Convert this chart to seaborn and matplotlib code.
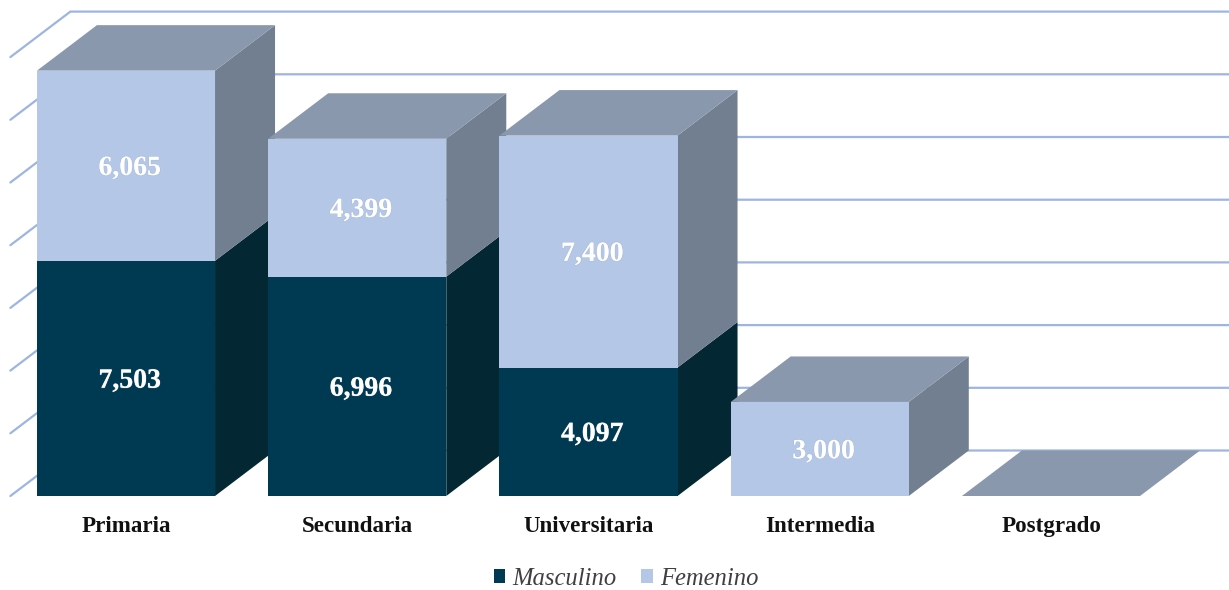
import matplotlib
matplotlib.use("Agg")
import matplotlib.pyplot as plt
from matplotlib.patches import Polygon, Patch
import matplotlib.patheffects as pe
import seaborn as sns

categories = ["Primaria", "Secundaria", "Universitaria", "Intermedia", "Postgrado"]
masculino = [7503, 6996, 4097, 0, 0]
femenino = [6065, 4399, 7400, 3000, 0]
grid_values = [0, 2000, 4000, 6000, 8000, 10000, 12000, 14000]

W, H = 1229, 590
FLOOR_PX = 496
PX_PER_UNIT = 0.03135
PX_PER_CAT = 231.25
FIRST_CENTER_PX = 126
BAR_WIDTH = 0.77
DEPTH_X = 60 / PX_PER_CAT
DEPTH_Y = 45.5 / PX_PER_UNIT

C_MASC, C_FEM = "#003a52", "#b4c7e7"
C_MASC_SIDE, C_FEM_SIDE = "#032733", "#727f91"
C_TOP = "#8a98ae"
C_GRID = "#9db5e0"
SERIF = ["Liberation Serif", "DejaVu Serif"]

sns.set_theme(style="white")
plt.rcParams["font.family"] = SERIF

fig = plt.figure(figsize=(W / 100, H / 100), dpi=100, facecolor="white")
ax = fig.add_axes([0, (H - FLOOR_PX) / H, 1, FLOOR_PX / H])
ax.patch.set_alpha(0)

sns.barplot(x=categories, y=masculino, color=C_MASC, saturation=1, width=BAR_WIDTH,
            label="Masculino", ax=ax, zorder=5, linewidth=0)
sns.barplot(x=categories, y=femenino, bottom=masculino, color=C_FEM, saturation=1, width=BAR_WIDTH,
            label="Femenino", ax=ax, zorder=5, linewidth=0, legend=False)
if ax.get_legend() is not None:
    ax.get_legend().remove()

ax.set_xlim(-FIRST_CENTER_PX / PX_PER_CAT, (W - FIRST_CENTER_PX) / PX_PER_CAT)
ax.set_ylim(0, FLOOR_PX / PX_PER_UNIT)

# back wall and left wall grid
xl = -0.5
xr = len(categories) - 0.5 + DEPTH_X + 0.05
for v in grid_values:
    ax.plot([xl, xl + DEPTH_X, xr], [v, v + DEPTH_Y, v + DEPTH_Y],
            color=C_GRID, lw=1.6, zorder=1, solid_joinstyle="miter", clip_on=False)

# extruded side and top faces, built from the same values
for i, (m, f) in enumerate(zip(masculino, femenino)):
    z = 2 + i * 0.1
    x1 = i + BAR_WIDTH / 2
    x0 = i - BAR_WIDTH / 2
    for lo, hi, col in ((0, m, C_MASC_SIDE), (m, m + f, C_FEM_SIDE)):
        if hi > lo:
            ax.add_patch(Polygon([(x1, lo), (x1 + DEPTH_X, lo + DEPTH_Y),
                                  (x1 + DEPTH_X, hi + DEPTH_Y), (x1, hi)],
                                 closed=True, fc=col, ec="none", zorder=z))
    t = m + f
    ax.add_patch(Polygon([(x0, t), (x0 + DEPTH_X, t + DEPTH_Y),
                          (x1 + DEPTH_X, t + DEPTH_Y), (x1, t)],
                         closed=True, fc=C_TOP, ec="none", zorder=z))

# data labels
for container, vals in zip(ax.containers, (masculino, femenino)):
    labels = [f"{v:,}" if v else "" for v in vals]
    for t in ax.bar_label(container, labels=labels, label_type="center", color="white",
                          fontsize=20, fontweight="bold", zorder=6):
        t.xyann = (2.6, -2)
        t.set_path_effects([pe.withStroke(linewidth=0.8, foreground=(0.55, 0.6, 0.7, 0.25))])

sns.despine(ax=ax, left=True, bottom=True, top=True, right=True)
ax.set_yticks([])
ax.set_xticks(range(len(categories)))
ax.set_xticklabels(categories, fontsize=16.6, fontweight="bold", color="#111111")
ax.tick_params(axis="x", length=0, pad=14.2)

handles = [Patch(fc=C_MASC, ec="none", label="Masculino"), Patch(fc=C_FEM, ec="none", label="Femenino")]
fig.legend(handles=handles, loc="center", bbox_to_anchor=(626 / W, 1 - 579 / H), ncol=2, frameon=False,
           prop={"family": SERIF, "style": "italic", "size": 17.7}, labelcolor="#404040",
           handlelength=0.48, handleheight=0.48, handletextpad=0.28, columnspacing=1.0)

fig.savefig("out.png", dpi=100, facecolor="white")
